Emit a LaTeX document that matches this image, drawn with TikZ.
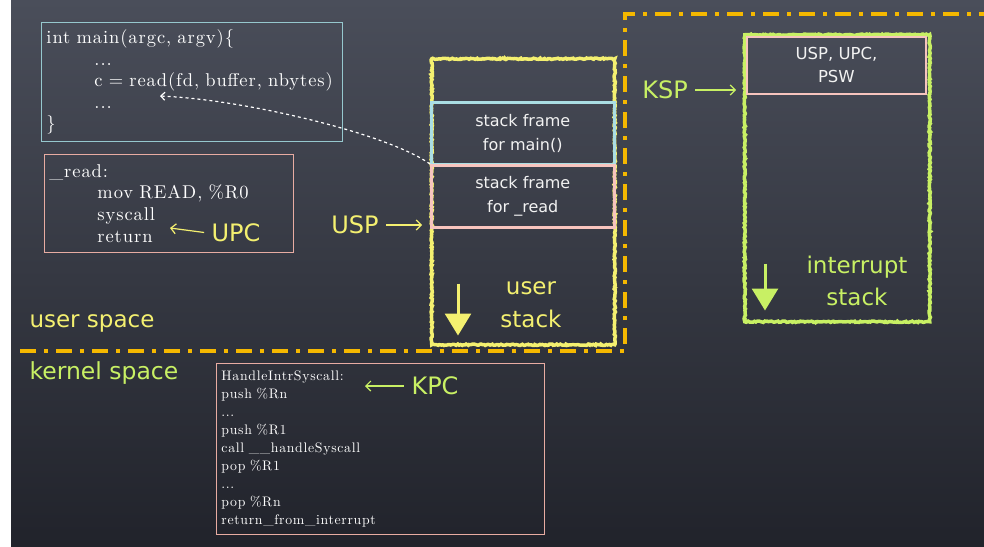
\documentclass[tikz,border=0pt]{standalone}
\usepackage{fontspec}
\newfontfamily\chalk{DejaVu Sans}
\newfontfamily\codefont{lmroman10-regular.otf}[LetterSpace=5, WordSpace=1.3]
\usetikzlibrary{positioning,arrows.meta,decorations.pathmorphing,calc}

\definecolor{slatetop}{RGB}{74,78,90}
\definecolor{slatebot}{RGB}{33,35,43}
\definecolor{mainline}{RGB}{150,200,206}
\definecolor{readline}{RGB}{232,172,162}
\definecolor{framepink}{RGB}{247,196,190}
\definecolor{framecyan}{RGB}{170,222,228}
\definecolor{chalkyellow}{RGB}{244,240,112}
\definecolor{chalkgreen}{RGB}{200,240,100}
\definecolor{borderorange}{RGB}{245,184,0}

\tikzset{
  codebox/.style={draw, line width=0.9pt, anchor=north west, align=left,
    inner sep=5pt, text=white},
  chalkbox/.style={draw, line width=3.5pt, anchor=north west, decorate,
    decoration={random steps, segment length=1.5pt, amplitude=0.7pt}},
  frame/.style={draw, anchor=north west, align=center, text=white!95!black,
    font=\chalk\fontsize{16}{24}\selectfont},
  chalklabel/.style={font=\chalk\fontsize{24}{30}\selectfont},
  ptr/.style={line width=1.2pt, shorten <=4pt, -{Straight Barb[length=5pt, width=10pt]}},
  fatarrow/.style={line width=3pt, -{Triangle[length=22pt, width=26pt]}},
  spaceline/.style={borderorange, line width=3.5pt,
    dash pattern=on 16pt off 8pt on 4pt off 8pt},
  returnpath/.style={white, line width=1.2pt, dash pattern=on 3pt off 3pt,
    -{Straight Barb[length=4pt, width=8pt]}}
}

\begin{document}
\begin{tikzpicture}[x=1pt, y=-1pt]
\fill[white] (0,0) rectangle (984,546);
\shade[top color=slatetop, bottom color=slatebot] (11,0) rectangle (984,546);
\useasboundingbox (0,0) rectangle (984,546);

% user space code
\node[codebox, draw=mainline, text width=291pt, minimum height=119pt,
  font=\codefont\fontsize{18.5}{21.5}\selectfont] (mainbox) at (41,22)
  {int main(argc, argv)\{\\
   \hspace*{48pt}...\\
   \hspace*{48pt}c = read(fd, buffer, nbytes)\\
   \hspace*{48pt}...\\
   \}};
\node[codebox, draw=readline, text width=239pt, minimum height=98pt,
  font=\codefont\fontsize{18.5}{21.7}\selectfont] (readbox) at (44,154)
  {\_read:\\
   \hspace*{48pt}mov READ, \%R0\\
   \hspace*{48pt}syscall\\
   \hspace*{48pt}return};
\coordinate (callsite) at (160,96);
\coordinate (returnline) at (170,228);

% user stack
\node[chalkbox, draw=chalkyellow, minimum width=183pt, minimum height=286pt] (ustack) at (430,57) {};
\node[frame, draw=framecyan, line width=2.5pt, minimum width=183pt, minimum height=62pt] (mainframe) at (430,101) {stack frame\\for main()};
\node[frame, draw=framepink, line width=2.5pt, minimum width=183pt, minimum height=62pt] (readframe) at (430,164) {stack frame\\for \_read};
\draw[fatarrow, chalkyellow] ($(ustack.south west)+(28,-63)$) -- ++(0,52);
\node[chalklabel, chalkyellow, align=center, font=\chalk\fontsize{23}{33}\selectfont] (ulabel) at (531,305) {user\\stack};

% interrupt stack
\node[chalkbox, draw=chalkgreen, minimum width=185pt, minimum height=287pt] (istack) at (743,33) {};
\node[frame, draw=framepink, line width=1.8pt, minimum width=179pt, minimum height=57pt,
  font=\chalk\fontsize{16.5}{23}\selectfont] (trapframe) at (746,36) {USP, UPC,\\PSW};
\draw[fatarrow, chalkgreen] ($(istack.south west)+(22,-60)$) -- ++(0,47);
\node[chalklabel, chalkgreen, align=center, font=\chalk\fontsize{23}{32}\selectfont] (ilabel) at (857,281) {interrupt\\stack};

% kernel code
\node[codebox, draw=readline, text width=318pt, minimum height=171pt,
  font=\codefont\fontsize{13.8}{18}\selectfont] (handlerbox) at (216,363)
  {HandleIntrSyscall:\\
   push \%Rn\\
   ...\\
   push \%R1\\
   call \_\_handleSyscall\\
   pop \%R1\\
   ...\\
   pop \%Rn\\
   return\_from\_interrupt};
\coordinate (handlerline) at (365,386);

% pointers
\node[chalklabel, chalkyellow] (upc) at (236,233) {UPC};
\node[chalklabel, chalkyellow] (usp) at (355,225) {USP};
\node[chalklabel, chalkgreen] (ksp) at (665,90) {KSP};
\node[chalklabel, chalkgreen] (kpc) at (435,386) {KPC};
\draw[ptr, chalkyellow] (upc.west) -- (returnline);
\draw[ptr, chalkyellow, shorten >=8pt] (usp.east) -- (usp.east -| ustack.west);
\draw[ptr, chalkgreen, shorten >=7pt] (ksp.east) -- (ksp.east -| istack.west);
\draw[ptr, chalkgreen] (kpc.west) -- (handlerline);
\draw[returnpath] (readframe.north west) .. controls (390,135) and (250,100) .. (callsite);

% user / kernel boundary
\draw[spaceline] (20,351) -- (625,351) -- (625,14) -- (984,14);
\node[chalklabel, chalkyellow, anchor=west, font=\chalk\fontsize{23}{28}\selectfont] (uspace) at (26,323) {user space};
\node[chalklabel, chalkgreen, anchor=west, font=\chalk\fontsize{23.5}{28}\selectfont] (kspace) at (26,373) {kernel space};
\end{tikzpicture}
\end{document}
